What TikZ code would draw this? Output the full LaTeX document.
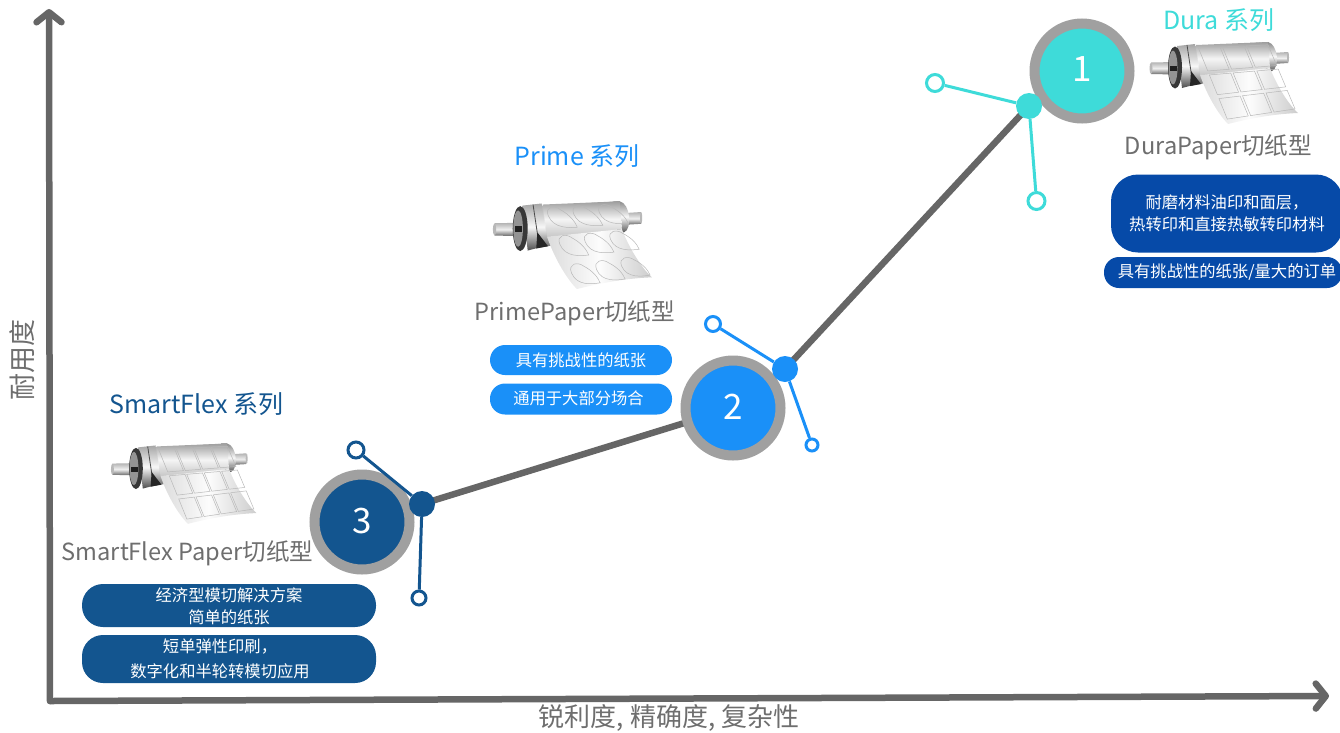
\documentclass[tikz,border=0pt]{standalone}
\usepackage{fontspec}
\setmainfont{Noto Sans CJK SC}
\usetikzlibrary{arrows.meta,backgrounds}
\definecolor{cteal}{HTML}{3EDBD9}
\definecolor{cblue}{HTML}{1A90F8}
\definecolor{cnavy}{HTML}{13558F}
\definecolor{cdeep}{HTML}{064AA8}
\definecolor{cring}{HTML}{A0A0A0}
\definecolor{caxis}{HTML}{666666}
\definecolor{ctext}{HTML}{6E6E6E}
\tikzset{
  declare function={
    px(\u,\v)=(1-\v)*((1-\u)*24+\u*96)+\v*((1-\u)*56+\u*126);
    py(\u,\v)=(1-\v)*((1-\u)*(-21)+\u*(-24))+\v*((1-\u)*58+\u*47);
  },
  axisline/.style={draw=caxis,line width=6.5pt,line cap=round,-{Straight Barb[length=10pt,width=25pt,round,line width=6.5pt]}},
  trend/.style={draw=caxis,line width=6.5pt},
  ring/.style={circle,draw=cring,fill=#1,line width=10pt,minimum size=95pt,inner sep=0pt,text=white,font=\fontsize{35}{35}\selectfont},
  hub/.style={circle,fill=#1,minimum size=26pt,inner sep=0pt},
  endpt/.style={circle,draw=#1,fill=white,line width=3pt,minimum size=17pt,inner sep=0pt},
  spoke/.style={draw=#1,line width=3pt},
  series/.style={text=#1,font=\fontsize{25}{26}\selectfont,inner sep=0pt},
  model/.style={text=ctext,font=\fontsize{23.6}{24}\selectfont,inner sep=0pt},
  pill/.style={fill=#1,text=white,align=center,rounded corners=21pt,inner sep=0pt,font=\fontsize{16.3}{22.5}\selectfont},
  axislabel/.style={text=ctext,font=\fontsize{26}{26}\selectfont,inner sep=0pt},
  cellline/.style={draw=black!28,line width=.5pt},
}
\newcommand{\rollerbody}{%
  % shafts
  \shade[top color=black!30,bottom color=black!60,middle color=black!6] (-21,-3.5)--(3,-4)--(3,8.5)--(-21,8)--cycle;
  \fill[black!28] (-21,2.3) ellipse (1.5 and 5.7);
  \shade[top color=black!30,bottom color=black!60,middle color=black!6] (100,-13)--(116,-14)--(116,-3)--(100,-2)--cycle;
  \fill[black!28] (116,-8.5) ellipse (1 and 5.5);
  % drum
  \shade[top color=black!35,bottom color=black!60,middle color=black!3] (6,-19)--(96,-24)--(102,2)--(92,6)--(18,20)--cycle;
  % right collar
  \shade[top color=black!45,bottom color=black!65,middle color=black!3] (90,-24)--(96,-24) .. controls (106,-22) and (108,2) .. (100,5)--(94,5)--cycle;
  % left collars and flange
  \shade[top color=black!35,bottom color=black!70,middle color=black!3] (5,-20)--(23,-22)--(29,17)--(10,22)--cycle;
  \draw[black!70,line width=.8pt] (15,-21)--(21,19);
  \fill[black!78] (3,1.5) ellipse (7 and 21);
  \fill[black!42] (1,1.5) ellipse (4.5 and 17);
  \fill[black!88] (-2,-.5) rectangle (5,5);
  \fill[black!85] (19,5)--(29,18)--(18,20)--cycle;
  % web of paper over the drum
  \shade[top color=black!38,bottom color=black!22,middle color=black!4]
    (24,-21)--(96,-24)--(98,2)--(28,9)--cycle;
  % web of paper hanging down
  \shade[left color=black!14,right color=black!20,middle color=black!1]
    (28,9)--(98,2)
    .. controls (104,18) and (116,38) .. (126,47)
    .. controls (102,48) and (80,52) .. (56,58)
    .. controls (48,50) and (36,32) .. (28,9)
    -- cycle;
}
\newcommand{\labelcells}[1]{%
  \foreach \c in {1,...,#1}{
    \foreach \vA/\vB in {.04/.33,.38/.63,.68/.94}{
      \pgfmathsetmacro{\uA}{(\c-1+.05)/#1}
      \pgfmathsetmacro{\uB}{(\c-.05)/#1}
      \draw[cellline] ({px(\uA,\vA)},{py(\uA,\vA)})--({px(\uB,\vA)},{py(\uB,\vA)})--({px(\uB,\vB)},{py(\uB,\vB)})--({px(\uA,\vB)},{py(\uA,\vB)})--cycle;
    }
  }
}
\newcommand{\labeldrops}{%
  \foreach \c in {0,1,2}{
    \foreach \v in {.02,.36,.70}{
      \pgfmathsetmacro{\uA}{(\c+.04)/3}
      \pgfmathsetmacro{\uB}{(\c+.97)/3}
      \pgfmathsetmacro{\uM}{(\c+.45)/3}
      \pgfmathsetmacro{\vB}{\v+.27}
      \draw[cellline] ({px(\uB,\vB)},{py(\uB,\vB)})
        .. controls ({px(\uB-.1,\vB)},{py(\uB-.1,\vB)}) and ({px(\uA,\vB)},{py(\uA,\vB)}) .. ({px(\uA,\v+.11)},{py(\uA,\v+.11)})
        .. controls ({px(\uA,\v)},{py(\uA,\v)}) and ({px(\uM,\v-.01)},{py(\uM,\v-.01)}) .. ({px(\uM+.05,\v+.05)},{py(\uM+.05,\v+.05)})
        .. controls ({px(\uB-.03,\v+.12)},{py(\uB-.03,\v+.12)}) and ({px(\uB,\v+.2)},{py(\uB,\v+.2)}) .. ({px(\uB,\vB)},{py(\uB,\vB)})--cycle;
    }
  }
}
\begin{document}
\begin{tikzpicture}[x=1pt,y=-1pt]
\useasboundingbox (0,0) rectangle (1340,732);

% rollers
\begin{scope}[shift={(1172,66)},scale=1]\rollerbody\labelcells{3}\end{scope}
\begin{scope}[shift={(517,227)},scale=1.07]\rollerbody\labeldrops\end{scope}
\begin{scope}[shift={(133,467)},scale=.98]\rollerbody\labelcells{4}\end{scope}

% axes
\coordinate (origin) at (50,701);
\coordinate (ytip) at (49,9);
\coordinate (xtip) at (1329,696);
\draw[axisline] (origin) -- (ytip);
\draw[axisline] (origin) -- (xtip);
\node[axislabel] (xlabel) at (669,718) {锐利度, 精确度, 复杂性};
\node[axislabel,font=\fontsize{27}{27}\selectfont,rotate=90] (ylabel) at (22,360) {耐用度};

% rings and hubs
\node[ring=cteal] (r1) at (1082,71) {\raisebox{4pt}{1}};
\node[ring=cblue] (r2) at (733,408) {\raisebox{2pt}{2}};
\node[ring=cnavy] (r3) at (362,522) {\raisebox{3pt}{3}};
\node[hub=cteal] (h1) at (1029,106) {};
\node[hub=cblue] (h2) at (785,369) {};
\node[hub=cnavy] (h3) at (422,504) {};
\node[endpt=cteal] (e1a) at (935,83) {};
\node[endpt=cteal] (e1b) at (1036.5,201) {};
\node[endpt=cblue,minimum size=15pt] (e2a) at (713,324) {};
\node[endpt=cblue,minimum size=12pt] (e2b) at (812,445) {};
\node[endpt=cnavy,minimum size=16pt] (e3a) at (356,450) {};
\node[endpt=cnavy,minimum size=14pt] (e3b) at (419,598) {};

\begin{scope}[on background layer]
  \draw[trend] (h3.center) -- (r2.center);
  \draw[trend] (h2.center) -- (h1.center);
\end{scope}
\draw[spoke=cteal] (h1) -- (e1a);
\draw[spoke=cteal] (h1) -- (e1b);
\draw[spoke=cblue] (h2) -- (e2a);
\draw[spoke=cblue] (h2) -- (e2b);
\draw[spoke=cnavy] (h3) -- (e3a);
\draw[spoke=cnavy] (h3) -- (e3b);

% text
\node[series=cteal] (t1) at (1219,20) {Dura 系列};
\node[series=cblue] (t2) at (577,156) {Prime 系列};
\node[series=cnavy] (t3) at (196.5,404) {SmartFlex 系列};
\node[model] (m1) at (1218.5,147) {DuraPaper切纸型};
\node[model] (m2) at (575,313) {PrimePaper切纸型};
\node[model] (m3) at (187.5,553) {SmartFlex Paper切纸型};

% pills
\node[pill=cdeep,minimum width=232pt,minimum height=78pt,rounded corners=27pt] (p1a) at (1227,213.5) {耐磨材料油印和面层，\\热转印和直接热敏转印材料};
\node[pill=cdeep,minimum width=238pt,minimum height=31pt,rounded corners=15pt] (p1b) at (1223,272.5) {\hspace*{8pt}\raisebox{-1pt}{具有挑战性的纸张/量大的订单}};
\node[pill=cblue,minimum width=182pt,minimum height=30pt,rounded corners=15pt] (p2a) at (581,360) {具有挑战性的纸张};
\node[pill=cblue,minimum width=182pt,minimum height=31pt,rounded corners=15pt] (p2b) at (581,399) {\raisebox{2pt}{通用于大部分场合}\hspace*{5pt}};
\node[pill=cnavy,minimum width=294pt,minimum height=43pt] (p3a) at (229,605.5) {\raisebox{-2pt}[14pt][4pt]{经济型模切解决方案}\\\raisebox{-2pt}[14pt][4pt]{简单的纸张}};
\node[pill=cnavy,minimum width=294pt,minimum height=48pt] (p3b) at (229,659) {\raisebox{2pt}{短单弹性印刷，}\hspace*{18pt}\\数字化和半轮转模切应用\hspace*{18pt}};
\end{tikzpicture}
\end{document}
